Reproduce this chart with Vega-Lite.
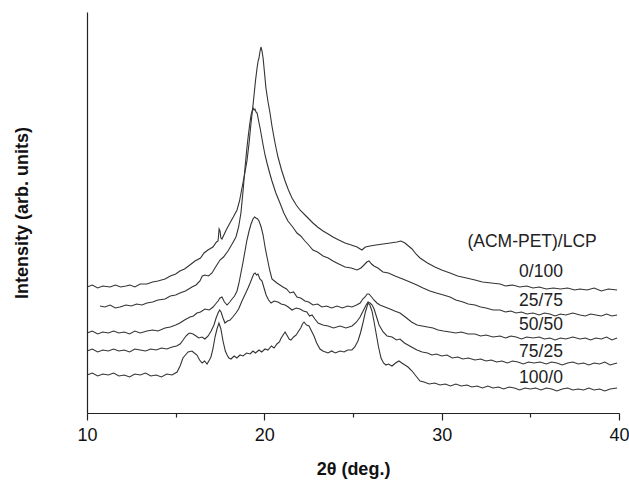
{
  "$schema": "https://vega.github.io/schema/vega-lite/v6.json",
  "width": 532,
  "height": 401,
  "autosize": {"type": "none"},
  "padding": {"left": 87, "top": 12, "right": 10, "bottom": 70},
  "background": "white",
  "view": {"stroke": null},
  "config": {"font": "Liberation Sans"},
  "datasets": {
    "curves": [
      {"s":"100/0","x":10,"y":38},{"s":"100/0","x":10.3,"y":40},{"s":"100/0","x":10.6,"y":37},{"s":"100/0","x":10.9,"y":39},{"s":"100/0","x":11.2,"y":38},{"s":"100/0","x":11.5,"y":40},{"s":"100/0","x":11.8,"y":37},{"s":"100/0","x":12.1,"y":38},{"s":"100/0","x":12.4,"y":36},{"s":"100/0","x":12.7,"y":39},{"s":"100/0","x":13.0,"y":38},{"s":"100/0","x":13.3,"y":40},{"s":"100/0","x":13.6,"y":37},{"s":"100/0","x":13.9,"y":38},{"s":"100/0","x":14.2,"y":36},{"s":"100/0","x":14.5,"y":39},{"s":"100/0","x":14.8,"y":38},{"s":"100/0","x":15.08,"y":41},{"s":"100/0","x":15.25,"y":47},{"s":"100/0","x":15.41,"y":55},{"s":"100/0","x":15.55,"y":58},{"s":"100/0","x":15.7,"y":61},{"s":"100/0","x":15.92,"y":62},{"s":"100/0","x":16.05,"y":60},{"s":"100/0","x":16.2,"y":58},{"s":"100/0","x":16.35,"y":53},{"s":"100/0","x":16.49,"y":50},{"s":"100/0","x":16.63,"y":52},{"s":"100/0","x":16.77,"y":49},{"s":"100/0","x":16.9,"y":53},{"s":"100/0","x":16.99,"y":56},{"s":"100/0","x":17.1,"y":64},{"s":"100/0","x":17.22,"y":76},{"s":"100/0","x":17.33,"y":84},{"s":"100/0","x":17.44,"y":90},{"s":"100/0","x":17.55,"y":84},{"s":"100/0","x":17.67,"y":72},{"s":"100/0","x":17.8,"y":62},{"s":"100/0","x":17.9,"y":58},{"s":"100/0","x":18.0,"y":55},{"s":"100/0","x":18.12,"y":54},{"s":"100/0","x":18.3,"y":57},{"s":"100/0","x":18.45,"y":55},{"s":"100/0","x":18.63,"y":58},{"s":"100/0","x":18.8,"y":57},{"s":"100/0","x":19.0,"y":60},{"s":"100/0","x":19.2,"y":59},{"s":"100/0","x":19.36,"y":62},{"s":"100/0","x":19.5,"y":60},{"s":"100/0","x":19.7,"y":63},{"s":"100/0","x":19.85,"y":61},{"s":"100/0","x":20.04,"y":64},{"s":"100/0","x":20.2,"y":63},{"s":"100/0","x":20.4,"y":67},{"s":"100/0","x":20.55,"y":65},{"s":"100/0","x":20.71,"y":69},{"s":"100/0","x":20.85,"y":71},{"s":"100/0","x":20.95,"y":75},{"s":"100/0","x":21.06,"y":78},{"s":"100/0","x":21.17,"y":81},{"s":"100/0","x":21.3,"y":77},{"s":"100/0","x":21.4,"y":74},{"s":"100/0","x":21.5,"y":73},{"s":"100/0","x":21.65,"y":76},{"s":"100/0","x":21.8,"y":78},{"s":"100/0","x":21.9,"y":81},{"s":"100/0","x":22.05,"y":85},{"s":"100/0","x":22.15,"y":89},{"s":"100/0","x":22.24,"y":91},{"s":"100/0","x":22.38,"y":88},{"s":"100/0","x":22.52,"y":87},{"s":"100/0","x":22.66,"y":82},{"s":"100/0","x":22.8,"y":77},{"s":"100/0","x":22.95,"y":70},{"s":"100/0","x":23.14,"y":64},{"s":"100/0","x":23.3,"y":62},{"s":"100/0","x":23.45,"y":61},{"s":"100/0","x":23.59,"y":60},{"s":"100/0","x":23.8,"y":62},{"s":"100/0","x":24.0,"y":60},{"s":"100/0","x":24.27,"y":62},{"s":"100/0","x":24.5,"y":61},{"s":"100/0","x":24.7,"y":63},{"s":"100/0","x":24.94,"y":63},{"s":"100/0","x":25.1,"y":66},{"s":"100/0","x":25.28,"y":72},{"s":"100/0","x":25.42,"y":80},{"s":"100/0","x":25.56,"y":90},{"s":"100/0","x":25.7,"y":101},{"s":"100/0","x":25.85,"y":110},{"s":"100/0","x":25.95,"y":108},{"s":"100/0","x":26.07,"y":102},{"s":"100/0","x":26.18,"y":92},{"s":"100/0","x":26.3,"y":80},{"s":"100/0","x":26.44,"y":66},{"s":"100/0","x":26.58,"y":55},{"s":"100/0","x":26.72,"y":50},{"s":"100/0","x":26.86,"y":48},{"s":"100/0","x":27.0,"y":49},{"s":"100/0","x":27.2,"y":47},{"s":"100/0","x":27.4,"y":50},{"s":"100/0","x":27.59,"y":52},{"s":"100/0","x":27.75,"y":50},{"s":"100/0","x":27.93,"y":48},{"s":"100/0","x":28.1,"y":46},{"s":"100/0","x":28.33,"y":42},{"s":"100/0","x":28.55,"y":37},{"s":"100/0","x":28.78,"y":32},{"s":"100/0","x":29.0,"y":31},{"s":"100/0","x":29.3,"y":29},{"s":"100/0","x":29.6,"y":30},{"s":"100/0","x":29.91,"y":28},{"s":"100/0","x":30.2,"y":29},{"s":"100/0","x":30.5,"y":27},{"s":"100/0","x":30.8,"y":29},{"s":"100/0","x":31.1,"y":27},{"s":"100/0","x":31.43,"y":28},{"s":"100/0","x":31.7,"y":26},{"s":"100/0","x":32.0,"y":27},{"s":"100/0","x":32.3,"y":25},{"s":"100/0","x":32.6,"y":27},{"s":"100/0","x":32.9,"y":25},{"s":"100/0","x":33.2,"y":26},{"s":"100/0","x":33.5,"y":24},{"s":"100/0","x":33.8,"y":26},{"s":"100/0","x":34.1,"y":25},{"s":"100/0","x":34.4,"y":23},{"s":"100/0","x":34.7,"y":25},{"s":"100/0","x":35.0,"y":24},{"s":"100/0","x":35.3,"y":25},{"s":"100/0","x":35.6,"y":23},{"s":"100/0","x":35.9,"y":25},{"s":"100/0","x":36.2,"y":24},{"s":"100/0","x":36.5,"y":22},{"s":"100/0","x":36.8,"y":24},{"s":"100/0","x":37.1,"y":25},{"s":"100/0","x":37.4,"y":23},{"s":"100/0","x":37.7,"y":24},{"s":"100/0","x":38.0,"y":23},{"s":"100/0","x":38.3,"y":25},{"s":"100/0","x":38.6,"y":23},{"s":"100/0","x":38.9,"y":24},{"s":"100/0","x":39.2,"y":22},{"s":"100/0","x":39.5,"y":24},{"s":"100/0","x":39.89,"y":25},

      {"s":"75/25","x":10,"y":62},{"s":"75/25","x":10.3,"y":64},{"s":"75/25","x":10.6,"y":61},{"s":"75/25","x":10.9,"y":63},{"s":"75/25","x":11.2,"y":62},{"s":"75/25","x":11.5,"y":64},{"s":"75/25","x":11.8,"y":62},{"s":"75/25","x":12.1,"y":63},{"s":"75/25","x":12.4,"y":61},{"s":"75/25","x":12.7,"y":64},{"s":"75/25","x":13.0,"y":63},{"s":"75/25","x":13.3,"y":62},{"s":"75/25","x":13.6,"y":64},{"s":"75/25","x":13.9,"y":63},{"s":"75/25","x":14.2,"y":65},{"s":"75/25","x":14.5,"y":64},{"s":"75/25","x":14.8,"y":66},{"s":"75/25","x":15.05,"y":67},{"s":"75/25","x":15.25,"y":69},{"s":"75/25","x":15.42,"y":73},{"s":"75/25","x":15.58,"y":77},{"s":"75/25","x":15.7,"y":79},{"s":"75/25","x":15.81,"y":80},{"s":"75/25","x":15.98,"y":79},{"s":"75/25","x":16.15,"y":77},{"s":"75/25","x":16.3,"y":75},{"s":"75/25","x":16.49,"y":76},{"s":"75/25","x":16.65,"y":74},{"s":"75/25","x":16.83,"y":77},{"s":"75/25","x":17.0,"y":82},{"s":"75/25","x":17.16,"y":88},{"s":"75/25","x":17.28,"y":95},{"s":"75/25","x":17.39,"y":100},{"s":"75/25","x":17.48,"y":103},{"s":"75/25","x":17.56,"y":101},{"s":"75/25","x":17.67,"y":95},{"s":"75/25","x":17.78,"y":90},{"s":"75/25","x":17.92,"y":92},{"s":"75/25","x":18.07,"y":93},{"s":"75/25","x":18.22,"y":96},{"s":"75/25","x":18.4,"y":100},{"s":"75/25","x":18.55,"y":104},{"s":"75/25","x":18.74,"y":112},{"s":"75/25","x":18.9,"y":118},{"s":"75/25","x":19.08,"y":125},{"s":"75/25","x":19.2,"y":130},{"s":"75/25","x":19.31,"y":135},{"s":"75/25","x":19.4,"y":139},{"s":"75/25","x":19.48,"y":140},{"s":"75/25","x":19.56,"y":138},{"s":"75/25","x":19.64,"y":139},{"s":"75/25","x":19.75,"y":134},{"s":"75/25","x":19.87,"y":132},{"s":"75/25","x":20.0,"y":124},{"s":"75/25","x":20.1,"y":118},{"s":"75/25","x":20.24,"y":113},{"s":"75/25","x":20.38,"y":110},{"s":"75/25","x":20.55,"y":112},{"s":"75/25","x":20.77,"y":111},{"s":"75/25","x":20.95,"y":109},{"s":"75/25","x":21.17,"y":108},{"s":"75/25","x":21.35,"y":106},{"s":"75/25","x":21.56,"y":103},{"s":"75/25","x":21.8,"y":105},{"s":"75/25","x":22.01,"y":104},{"s":"75/25","x":22.2,"y":102},{"s":"75/25","x":22.4,"y":101},{"s":"75/25","x":22.55,"y":97},{"s":"75/25","x":22.69,"y":98},{"s":"75/25","x":22.85,"y":94},{"s":"75/25","x":23.03,"y":90},{"s":"75/25","x":23.3,"y":88},{"s":"75/25","x":23.59,"y":87},{"s":"75/25","x":23.9,"y":85},{"s":"75/25","x":24.27,"y":87},{"s":"75/25","x":24.6,"y":85},{"s":"75/25","x":24.95,"y":87},{"s":"75/25","x":25.2,"y":91},{"s":"75/25","x":25.4,"y":96},{"s":"75/25","x":25.57,"y":102},{"s":"75/25","x":25.74,"y":108},{"s":"75/25","x":25.85,"y":111},{"s":"75/25","x":25.96,"y":110},{"s":"75/25","x":26.08,"y":108},{"s":"75/25","x":26.19,"y":104},{"s":"75/25","x":26.33,"y":96},{"s":"75/25","x":26.47,"y":88},{"s":"75/25","x":26.7,"y":81},{"s":"75/25","x":26.92,"y":77},{"s":"75/25","x":27.2,"y":76},{"s":"75/25","x":27.45,"y":73},{"s":"75/25","x":27.65,"y":74},{"s":"75/25","x":27.9,"y":70},{"s":"75/25","x":28.2,"y":67},{"s":"75/25","x":28.4,"y":65},{"s":"75/25","x":28.61,"y":63},{"s":"75/25","x":28.9,"y":61},{"s":"75/25","x":29.2,"y":60},{"s":"75/25","x":29.45,"y":58},{"s":"75/25","x":29.7,"y":59},{"s":"75/25","x":30.0,"y":57},{"s":"75/25","x":30.3,"y":58},{"s":"75/25","x":30.6,"y":55},{"s":"75/25","x":30.9,"y":56},{"s":"75/25","x":31.2,"y":54},{"s":"75/25","x":31.5,"y":55},{"s":"75/25","x":31.88,"y":53},{"s":"75/25","x":32.2,"y":54},{"s":"75/25","x":32.5,"y":52},{"s":"75/25","x":32.8,"y":53},{"s":"75/25","x":33.1,"y":51},{"s":"75/25","x":33.4,"y":52},{"s":"75/25","x":33.7,"y":50},{"s":"75/25","x":34.0,"y":52},{"s":"75/25","x":34.3,"y":51},{"s":"75/25","x":34.6,"y":49},{"s":"75/25","x":34.9,"y":51},{"s":"75/25","x":35.2,"y":50},{"s":"75/25","x":35.55,"y":51},{"s":"75/25","x":35.9,"y":49},{"s":"75/25","x":36.2,"y":51},{"s":"75/25","x":36.5,"y":50},{"s":"75/25","x":36.8,"y":48},{"s":"75/25","x":37.1,"y":50},{"s":"75/25","x":37.4,"y":51},{"s":"75/25","x":37.7,"y":49},{"s":"75/25","x":38.0,"y":50},{"s":"75/25","x":38.3,"y":48},{"s":"75/25","x":38.6,"y":50},{"s":"75/25","x":38.9,"y":49},{"s":"75/25","x":39.2,"y":51},{"s":"75/25","x":39.5,"y":48},{"s":"75/25","x":39.89,"y":50},

      {"s":"50/50","x":10,"y":80},{"s":"50/50","x":10.3,"y":82},{"s":"50/50","x":10.6,"y":79},{"s":"50/50","x":10.9,"y":81},{"s":"50/50","x":11.2,"y":80},{"s":"50/50","x":11.5,"y":82},{"s":"50/50","x":11.8,"y":80},{"s":"50/50","x":12.1,"y":81},{"s":"50/50","x":12.4,"y":79},{"s":"50/50","x":12.7,"y":82},{"s":"50/50","x":13.0,"y":80},{"s":"50/50","x":13.38,"y":82},{"s":"50/50","x":13.7,"y":83},{"s":"50/50","x":14.0,"y":82},{"s":"50/50","x":14.4,"y":85},{"s":"50/50","x":14.7,"y":86},{"s":"50/50","x":15.0,"y":88},{"s":"50/50","x":15.24,"y":90},{"s":"50/50","x":15.5,"y":93},{"s":"50/50","x":15.81,"y":96},{"s":"50/50","x":16.0,"y":97},{"s":"50/50","x":16.2,"y":100},{"s":"50/50","x":16.4,"y":101},{"s":"50/50","x":16.65,"y":104},{"s":"50/50","x":16.9,"y":103},{"s":"50/50","x":17.11,"y":106},{"s":"50/50","x":17.25,"y":109},{"s":"50/50","x":17.39,"y":112},{"s":"50/50","x":17.5,"y":115},{"s":"50/50","x":17.61,"y":116},{"s":"50/50","x":17.75,"y":111},{"s":"50/50","x":17.9,"y":108},{"s":"50/50","x":18.05,"y":111},{"s":"50/50","x":18.18,"y":114},{"s":"50/50","x":18.32,"y":117},{"s":"50/50","x":18.46,"y":122},{"s":"50/50","x":18.57,"y":130},{"s":"50/50","x":18.68,"y":140},{"s":"50/50","x":18.8,"y":151},{"s":"50/50","x":18.91,"y":162},{"s":"50/50","x":19.02,"y":173},{"s":"50/50","x":19.14,"y":182},{"s":"50/50","x":19.25,"y":189},{"s":"50/50","x":19.36,"y":194},{"s":"50/50","x":19.45,"y":196},{"s":"50/50","x":19.53,"y":195},{"s":"50/50","x":19.62,"y":194},{"s":"50/50","x":19.7,"y":192},{"s":"50/50","x":19.82,"y":186},{"s":"50/50","x":19.93,"y":178},{"s":"50/50","x":20.04,"y":166},{"s":"50/50","x":20.15,"y":156},{"s":"50/50","x":20.3,"y":143},{"s":"50/50","x":20.43,"y":134},{"s":"50/50","x":20.57,"y":132},{"s":"50/50","x":20.71,"y":130},{"s":"50/50","x":20.88,"y":128},{"s":"50/50","x":21.05,"y":126},{"s":"50/50","x":21.25,"y":124},{"s":"50/50","x":21.45,"y":120},{"s":"50/50","x":21.65,"y":121},{"s":"50/50","x":21.84,"y":116},{"s":"50/50","x":22.05,"y":115},{"s":"50/50","x":22.29,"y":112},{"s":"50/50","x":22.5,"y":111},{"s":"50/50","x":22.74,"y":108},{"s":"50/50","x":23.0,"y":109},{"s":"50/50","x":23.25,"y":106},{"s":"50/50","x":23.5,"y":107},{"s":"50/50","x":23.8,"y":105},{"s":"50/50","x":24.1,"y":107},{"s":"50/50","x":24.4,"y":105},{"s":"50/50","x":24.7,"y":107},{"s":"50/50","x":24.94,"y":106},{"s":"50/50","x":25.2,"y":108},{"s":"50/50","x":25.4,"y":110},{"s":"50/50","x":25.55,"y":114},{"s":"50/50","x":25.68,"y":116},{"s":"50/50","x":25.8,"y":119},{"s":"50/50","x":25.9,"y":119},{"s":"50/50","x":26.05,"y":116},{"s":"50/50","x":26.18,"y":113},{"s":"50/50","x":26.35,"y":110},{"s":"50/50","x":26.52,"y":108},{"s":"50/50","x":26.8,"y":106},{"s":"50/50","x":27.09,"y":104},{"s":"50/50","x":27.35,"y":102},{"s":"50/50","x":27.65,"y":100},{"s":"50/50","x":27.95,"y":96},{"s":"50/50","x":28.3,"y":91},{"s":"50/50","x":28.61,"y":88},{"s":"50/50","x":28.9,"y":87},{"s":"50/50","x":29.2,"y":86},{"s":"50/50","x":29.51,"y":85},{"s":"50/50","x":29.8,"y":83},{"s":"50/50","x":30.1,"y":82},{"s":"50/50","x":30.47,"y":81},{"s":"50/50","x":30.8,"y":80},{"s":"50/50","x":31.1,"y":81},{"s":"50/50","x":31.5,"y":79},{"s":"50/50","x":31.88,"y":79},{"s":"50/50","x":32.2,"y":77},{"s":"50/50","x":32.5,"y":78},{"s":"50/50","x":32.9,"y":76},{"s":"50/50","x":33.29,"y":77},{"s":"50/50","x":33.6,"y":75},{"s":"50/50","x":33.9,"y":77},{"s":"50/50","x":34.2,"y":76},{"s":"50/50","x":34.5,"y":74},{"s":"50/50","x":34.8,"y":76},{"s":"50/50","x":35.15,"y":75},{"s":"50/50","x":35.5,"y":76},{"s":"50/50","x":35.8,"y":74},{"s":"50/50","x":36.1,"y":75},{"s":"50/50","x":36.4,"y":73},{"s":"50/50","x":36.7,"y":75},{"s":"50/50","x":37.0,"y":74},{"s":"50/50","x":37.4,"y":76},{"s":"50/50","x":37.8,"y":74},{"s":"50/50","x":38.1,"y":75},{"s":"50/50","x":38.4,"y":73},{"s":"50/50","x":38.7,"y":75},{"s":"50/50","x":39.0,"y":74},{"s":"50/50","x":39.3,"y":76},{"s":"50/50","x":39.6,"y":73},{"s":"50/50","x":39.89,"y":75},

      {"s":"25/75","x":10.73,"y":107},{"s":"25/75","x":11.0,"y":106},{"s":"25/75","x":11.3,"y":108},{"s":"25/75","x":11.6,"y":105},{"s":"25/75","x":11.86,"y":106},{"s":"25/75","x":12.2,"y":108},{"s":"25/75","x":12.5,"y":107},{"s":"25/75","x":12.8,"y":109},{"s":"25/75","x":13.1,"y":108},{"s":"25/75","x":13.38,"y":110},{"s":"25/75","x":13.7,"y":111},{"s":"25/75","x":14.0,"y":113},{"s":"25/75","x":14.4,"y":114},{"s":"25/75","x":14.7,"y":117},{"s":"25/75","x":15.0,"y":118},{"s":"25/75","x":15.24,"y":120},{"s":"25/75","x":15.55,"y":122},{"s":"25/75","x":15.92,"y":126},{"s":"25/75","x":16.15,"y":128},{"s":"25/75","x":16.37,"y":132},{"s":"25/75","x":16.5,"y":137},{"s":"25/75","x":16.65,"y":138},{"s":"25/75","x":16.85,"y":137},{"s":"25/75","x":17.05,"y":140},{"s":"25/75","x":17.25,"y":146},{"s":"25/75","x":17.5,"y":153},{"s":"25/75","x":17.7,"y":156},{"s":"25/75","x":17.95,"y":162},{"s":"25/75","x":18.15,"y":168},{"s":"25/75","x":18.4,"y":176},{"s":"25/75","x":18.55,"y":186},{"s":"25/75","x":18.68,"y":200},{"s":"25/75","x":18.8,"y":222},{"s":"25/75","x":18.91,"y":245},{"s":"25/75","x":19.0,"y":262},{"s":"25/75","x":19.08,"y":275},{"s":"25/75","x":19.17,"y":288},{"s":"25/75","x":19.25,"y":298},{"s":"25/75","x":19.36,"y":305},{"s":"25/75","x":19.42,"y":303},{"s":"25/75","x":19.47,"y":304},{"s":"25/75","x":19.53,"y":301},{"s":"25/75","x":19.59,"y":300},{"s":"25/75","x":19.68,"y":292},{"s":"25/75","x":19.76,"y":285},{"s":"25/75","x":19.85,"y":276},{"s":"25/75","x":19.93,"y":268},{"s":"25/75","x":20.04,"y":258},{"s":"25/75","x":20.15,"y":250},{"s":"25/75","x":20.3,"y":240},{"s":"25/75","x":20.43,"y":232},{"s":"25/75","x":20.65,"y":220},{"s":"25/75","x":20.88,"y":210},{"s":"25/75","x":21.1,"y":200},{"s":"25/75","x":21.33,"y":192},{"s":"25/75","x":21.6,"y":186},{"s":"25/75","x":21.84,"y":180},{"s":"25/75","x":22.05,"y":177},{"s":"25/75","x":22.29,"y":172},{"s":"25/75","x":22.5,"y":168},{"s":"25/75","x":22.74,"y":163},{"s":"25/75","x":23.0,"y":161},{"s":"25/75","x":23.31,"y":157},{"s":"25/75","x":23.6,"y":155},{"s":"25/75","x":23.87,"y":152},{"s":"25/75","x":24.2,"y":149},{"s":"25/75","x":24.55,"y":146},{"s":"25/75","x":24.9,"y":145},{"s":"25/75","x":25.23,"y":143},{"s":"25/75","x":25.45,"y":145},{"s":"25/75","x":25.62,"y":148},{"s":"25/75","x":25.78,"y":151},{"s":"25/75","x":25.9,"y":152},{"s":"25/75","x":26.05,"y":149},{"s":"25/75","x":26.18,"y":147},{"s":"25/75","x":26.4,"y":145},{"s":"25/75","x":26.69,"y":141},{"s":"25/75","x":27.0,"y":140},{"s":"25/75","x":27.37,"y":137},{"s":"25/75","x":27.8,"y":134},{"s":"25/75","x":28.21,"y":131},{"s":"25/75","x":28.6,"y":128},{"s":"25/75","x":28.95,"y":125},{"s":"25/75","x":29.34,"y":122},{"s":"25/75","x":29.7,"y":120},{"s":"25/75","x":30.1,"y":118},{"s":"25/75","x":30.47,"y":116},{"s":"25/75","x":30.8,"y":113},{"s":"25/75","x":31.2,"y":111},{"s":"25/75","x":31.5,"y":109},{"s":"25/75","x":31.88,"y":108},{"s":"25/75","x":32.2,"y":106},{"s":"25/75","x":32.5,"y":105},{"s":"25/75","x":32.9,"y":103},{"s":"25/75","x":33.29,"y":103},{"s":"25/75","x":33.6,"y":101},{"s":"25/75","x":33.9,"y":102},{"s":"25/75","x":34.2,"y":100},{"s":"25/75","x":34.5,"y":101},{"s":"25/75","x":34.8,"y":99},{"s":"25/75","x":35.15,"y":100},{"s":"25/75","x":35.5,"y":98},{"s":"25/75","x":35.8,"y":100},{"s":"25/75","x":36.1,"y":99},{"s":"25/75","x":36.4,"y":97},{"s":"25/75","x":36.7,"y":99},{"s":"25/75","x":37.0,"y":98},{"s":"25/75","x":37.4,"y":100},{"s":"25/75","x":37.8,"y":98},{"s":"25/75","x":38.1,"y":97},{"s":"25/75","x":38.4,"y":99},{"s":"25/75","x":38.7,"y":98},{"s":"25/75","x":39.0,"y":97},{"s":"25/75","x":39.3,"y":99},{"s":"25/75","x":39.6,"y":97},{"s":"25/75","x":39.89,"y":98},

      {"s":"0/100","x":10,"y":126},{"s":"0/100","x":10.3,"y":128},{"s":"0/100","x":10.6,"y":125},{"s":"0/100","x":10.9,"y":127},{"s":"0/100","x":11.3,"y":126},{"s":"0/100","x":11.6,"y":128},{"s":"0/100","x":11.9,"y":126},{"s":"0/100","x":12.2,"y":127},{"s":"0/100","x":12.42,"y":128},{"s":"0/100","x":12.7,"y":126},{"s":"0/100","x":13.0,"y":129},{"s":"0/100","x":13.38,"y":129},{"s":"0/100","x":13.7,"y":131},{"s":"0/100","x":14.0,"y":132},{"s":"0/100","x":14.4,"y":134},{"s":"0/100","x":14.7,"y":137},{"s":"0/100","x":15.0,"y":139},{"s":"0/100","x":15.24,"y":142},{"s":"0/100","x":15.5,"y":144},{"s":"0/100","x":15.8,"y":148},{"s":"0/100","x":16.09,"y":152},{"s":"0/100","x":16.4,"y":155},{"s":"0/100","x":16.6,"y":160},{"s":"0/100","x":16.82,"y":163},{"s":"0/100","x":17.1,"y":166},{"s":"0/100","x":17.3,"y":171},{"s":"0/100","x":17.39,"y":172},{"s":"0/100","x":17.45,"y":184},{"s":"0/100","x":17.5,"y":182},{"s":"0/100","x":17.55,"y":175},{"s":"0/100","x":17.61,"y":174},{"s":"0/100","x":17.85,"y":183},{"s":"0/100","x":18.06,"y":190},{"s":"0/100","x":18.25,"y":196},{"s":"0/100","x":18.46,"y":203},{"s":"0/100","x":18.6,"y":212},{"s":"0/100","x":18.74,"y":225},{"s":"0/100","x":18.88,"y":238},{"s":"0/100","x":19.02,"y":252},{"s":"0/100","x":19.14,"y":270},{"s":"0/100","x":19.25,"y":290},{"s":"0/100","x":19.34,"y":304},{"s":"0/100","x":19.42,"y":318},{"s":"0/100","x":19.5,"y":332},{"s":"0/100","x":19.59,"y":345},{"s":"0/100","x":19.65,"y":352},{"s":"0/100","x":19.7,"y":355},{"s":"0/100","x":19.76,"y":362},{"s":"0/100","x":19.81,"y":366},{"s":"0/100","x":19.87,"y":362},{"s":"0/100","x":19.93,"y":355},{"s":"0/100","x":20.0,"y":342},{"s":"0/100","x":20.09,"y":325},{"s":"0/100","x":20.2,"y":312},{"s":"0/100","x":20.32,"y":300},{"s":"0/100","x":20.43,"y":287},{"s":"0/100","x":20.55,"y":275},{"s":"0/100","x":20.66,"y":265},{"s":"0/100","x":20.77,"y":256},{"s":"0/100","x":20.97,"y":243},{"s":"0/100","x":21.17,"y":232},{"s":"0/100","x":21.36,"y":223},{"s":"0/100","x":21.56,"y":215},{"s":"0/100","x":21.8,"y":208},{"s":"0/100","x":22.01,"y":203},{"s":"0/100","x":22.35,"y":197},{"s":"0/100","x":22.74,"y":190},{"s":"0/100","x":23.0,"y":186},{"s":"0/100","x":23.31,"y":182},{"s":"0/100","x":23.6,"y":179},{"s":"0/100","x":23.87,"y":176},{"s":"0/100","x":24.2,"y":173},{"s":"0/100","x":24.55,"y":170},{"s":"0/100","x":24.9,"y":168},{"s":"0/100","x":25.23,"y":166},{"s":"0/100","x":25.5,"y":163},{"s":"0/100","x":25.7,"y":166},{"s":"0/100","x":25.96,"y":167},{"s":"0/100","x":26.3,"y":168},{"s":"0/100","x":26.69,"y":169},{"s":"0/100","x":27.1,"y":170},{"s":"0/100","x":27.48,"y":171},{"s":"0/100","x":27.7,"y":172},{"s":"0/100","x":27.93,"y":170},{"s":"0/100","x":28.13,"y":167},{"s":"0/100","x":28.33,"y":164},{"s":"0/100","x":28.55,"y":159},{"s":"0/100","x":28.78,"y":155},{"s":"0/100","x":29.2,"y":150},{"s":"0/100","x":29.62,"y":146},{"s":"0/100","x":30.0,"y":143},{"s":"0/100","x":30.47,"y":140},{"s":"0/100","x":30.9,"y":137},{"s":"0/100","x":31.4,"y":135},{"s":"0/100","x":31.88,"y":133},{"s":"0/100","x":32.3,"y":131},{"s":"0/100","x":32.8,"y":130},{"s":"0/100","x":33.29,"y":129},{"s":"0/100","x":33.6,"y":127},{"s":"0/100","x":34.0,"y":128},{"s":"0/100","x":34.4,"y":126},{"s":"0/100","x":34.8,"y":127},{"s":"0/100","x":35.15,"y":125},{"s":"0/100","x":35.5,"y":126},{"s":"0/100","x":35.9,"y":124},{"s":"0/100","x":36.3,"y":125},{"s":"0/100","x":36.7,"y":124},{"s":"0/100","x":37.1,"y":125},{"s":"0/100","x":37.5,"y":123},{"s":"0/100","x":37.8,"y":124},{"s":"0/100","x":38.2,"y":123},{"s":"0/100","x":38.6,"y":125},{"s":"0/100","x":39.0,"y":122},{"s":"0/100","x":39.4,"y":124},{"s":"0/100","x":39.89,"y":123}
    ],
    "labels": [
      {"t":"(ACM-PET)/LCP","x":35.1,"y":171},
      {"t":"0/100","x":35.6,"y":141},
      {"t":"25/75","x":35.6,"y":112},
      {"t":"50/50","x":35.6,"y":88},
      {"t":"75/25","x":35.6,"y":61},
      {"t":"100/0","x":35.6,"y":35}
    ]
  },
  "layer": [
    {
      "data": {"name": "curves"},
      "mark": {"type": "line", "color": "#333333", "strokeWidth": 1.1},
      "encoding": {
        "x": {
          "field": "x", "type": "quantitative",
          "scale": {"domain": [10, 40], "nice": false, "zero": false},
          "axis": {
            "title": "2θ (deg.)",
            "values": [10, 15, 20, 25, 30, 35, 40],
            "labelExpr": "datum.value % 10 === 0 ? datum.label : ''",
            "tickSize": {"condition": {"test": "datum.value % 10 === 0", "value": 7}, "value": 4},
            "labelFlush": false,
            "grid": false,
            "domainColor": "#222", "tickColor": "#222", "domainWidth": 1.2, "tickWidth": 1.2,
            "labelFont": "Liberation Sans", "labelFontSize": 18, "labelColor": "#111",
            "labelPadding": 6,
            "titleFont": "Liberation Sans", "titleFontSize": 18, "titleFontWeight": "bold", "titleColor": "#111",
            "titlePadding": 16
          }
        },
        "y": {
          "field": "y", "type": "quantitative",
          "scale": {"domain": [0, 401], "nice": false},
          "axis": {
            "title": "Intensity (arb. units)",
            "ticks": false, "labels": false, "grid": false,
            "domainColor": "#222", "domainWidth": 1.2,
            "titleFont": "Liberation Sans", "titleFontSize": 18, "titleFontWeight": "bold", "titleColor": "#111",
            "titlePadding": 56
          }
        },
        "detail": {"field": "s"},
        "order": {"field": "x", "type": "quantitative"}
      }
    },
    {
      "data": {"name": "labels"},
      "mark": {"type": "text", "font": "Liberation Sans", "fontSize": 17.5, "color": "#222", "align": "center", "baseline": "middle"},
      "encoding": {
        "x": {"field": "x", "type": "quantitative"},
        "y": {"field": "y", "type": "quantitative"},
        "text": {"field": "t"}
      }
    }
  ]
}
